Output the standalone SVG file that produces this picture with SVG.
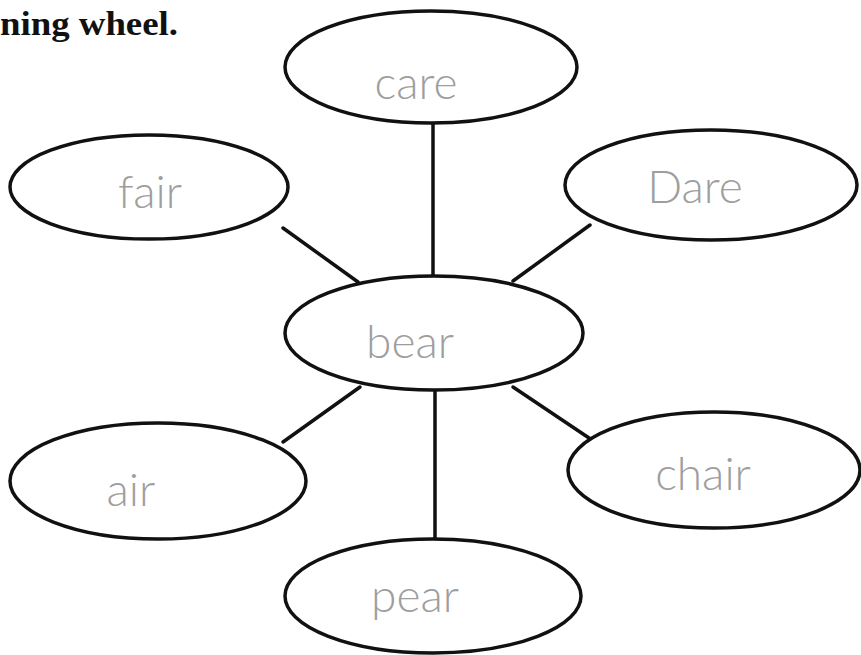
<svg xmlns="http://www.w3.org/2000/svg" width="861" height="655" viewBox="0 0 861 655">
<style>
.node ellipse{fill:#ffffff;stroke:#111111;stroke-width:3.5}
.conn line{stroke:#111111;stroke-width:3.5;stroke-linecap:round}
.hw{font-family:"Lato","Inter","Liberation Sans",sans-serif;font-weight:300;fill:#9e9e9e;font-size:46px;text-anchor:middle}
.title{font-family:"Liberation Serif","DejaVu Serif",serif;font-weight:bold;fill:#111111;font-size:33px}
</style>
<rect width="861" height="655" fill="#ffffff"/>
<text class="title" x="0" y="35" textLength="178" lengthAdjust="spacingAndGlyphs">ning wheel.</text>
<g class="conn" id="connectors">
<line x1="433" y1="124" x2="433" y2="277"/>
<line x1="283" y1="228" x2="358" y2="282"/>
<line x1="590" y1="225" x2="513" y2="281"/>
<line x1="360" y1="387" x2="283" y2="442"/>
<line x1="513" y1="387" x2="592" y2="440"/>
<line x1="435" y1="390" x2="435" y2="539"/>
</g>
<g class="node" id="care">
<ellipse cx="431" cy="67" rx="146" ry="56"/>
<text class="hw" x="416" y="99">care</text>
</g>
<g class="node" id="fair">
<ellipse cx="149" cy="187" rx="139" ry="52"/>
<text class="hw" x="150" y="208">fair</text>
</g>
<g class="node" id="dare">
<ellipse cx="711" cy="185" rx="146" ry="55"/>
<text class="hw" x="695" y="203">Dare</text>
</g>
<g class="node" id="bear">
<ellipse cx="434" cy="333" rx="149" ry="57"/>
<text class="hw" x="410" y="358">bear</text>
</g>
<g class="node" id="air">
<ellipse cx="158" cy="481" rx="148" ry="58"/>
<text class="hw" x="131" y="506">air</text>
</g>
<g class="node" id="chair">
<ellipse cx="714" cy="470" rx="146" ry="58"/>
<text class="hw" x="703" y="490">chair</text>
</g>
<g class="node" id="pear">
<ellipse cx="433" cy="596" rx="148" ry="57"/>
<text class="hw" x="415" y="612">pear</text>
</g>
</svg>
